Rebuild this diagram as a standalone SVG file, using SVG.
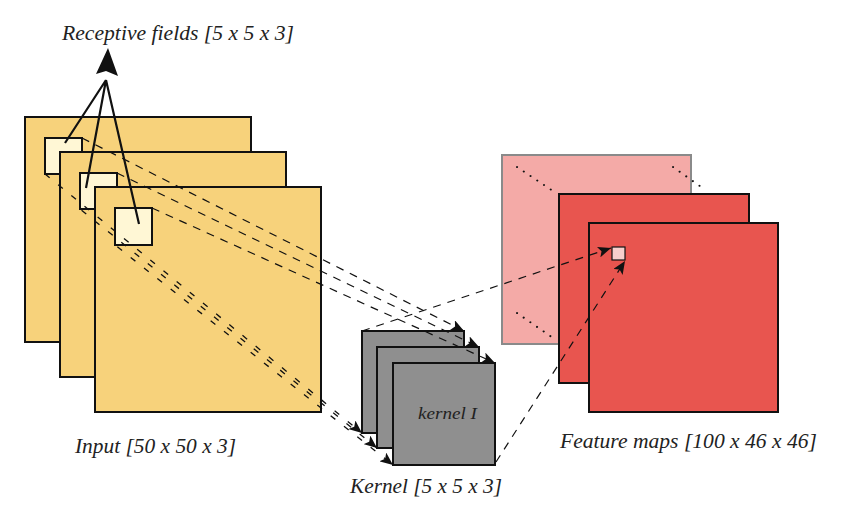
<svg xmlns="http://www.w3.org/2000/svg" width="854" height="522" viewBox="0 0 854 522">
<style>
.lbl{font-family:"Liberation Serif","Times New Roman",serif;font-style:italic;fill:#222;}
.inp{fill:#f7d27b;stroke:#111;stroke-width:2;}
.rf{fill:#fff7d5;stroke:#111;stroke-width:2;}
.ker{fill:#8f8f8f;stroke:#111;stroke-width:2;}
.fm{fill:#e8554f;stroke:#111;stroke-width:2;}
.dash{fill:none;stroke:#111;stroke-width:1.2;stroke-dasharray:8,7;}
.hatch{fill:none;stroke:#111;stroke-width:1.3;stroke-dasharray:6,11;}
.dot{fill:none;stroke:#111;stroke-width:2;stroke-linecap:round;stroke-dasharray:0.1,8;}
.solid{fill:none;stroke:#111;stroke-width:2.2;}
</style>
<defs>
<marker id="ah" markerUnits="userSpaceOnUse" markerWidth="13" markerHeight="11" refX="13" refY="5.5" orient="auto" viewBox="0 0 13 11">
<path d="M0,0 L13,5.5 L0,11 L3,5.5 z" fill="#111"/>
</marker>
</defs>

<g id="input">
<rect class="inp" x="25" y="117" width="226" height="225"/>
<rect class="rf" x="45" y="138" width="37" height="36"/>
<rect class="inp" x="60" y="152" width="226" height="225"/>
<rect class="rf" x="80" y="173" width="37" height="36"/>
<rect class="inp" x="95" y="187" width="226" height="225"/>
<rect class="rf" x="115" y="208" width="37" height="37"/>
</g>

<g id="kernel">
<rect class="ker" x="362" y="331" width="102" height="102"/>
<rect class="ker" x="377" y="347" width="102" height="101"/>
<rect class="ker" x="393" y="363" width="102" height="102"/>
<text class="lbl" x="418" y="419" font-size="17" textLength="59" lengthAdjust="spacingAndGlyphs">kernel I</text>
</g>

<g id="features">
<rect x="502" y="155" width="189" height="189" fill="#f4aaa7" stroke="#8a8a8a" stroke-width="2"/>
<path class="dot" d="M517,167 L556,193 M673,167 L704,189 M517,313 L556,340"/>
<rect class="fm" x="559" y="194" width="190" height="189"/>
<rect class="fm" x="589" y="223" width="189" height="189"/>
<rect x="612" y="247" width="13" height="13" fill="#f8cfcc" stroke="#111" stroke-width="1.2"/>
</g>

<g id="connectors">
<path class="dash" d="M82,138 L464,331" marker-end="url(#ah)"/>
<path class="dash" d="M117,173 L479,347" marker-end="url(#ah)"/>
<path class="dash" d="M152,208 L495,363" marker-end="url(#ah)"/>
<path class="hatch" d="M45,174 L362,433" marker-end="url(#ah)"/>
<path class="hatch" d="M80,209 L377,448" marker-end="url(#ah)" style="stroke-dashoffset:49"/>
<path class="hatch" d="M115,245 L393,465" marker-end="url(#ah)" style="stroke-dashoffset:99"/>
<path class="dash" d="M362,331 L611,248" marker-end="url(#ah)"/>
<path class="dash" d="M496,462 L625,261" marker-end="url(#ah)"/>
<path class="solid" d="M106,80 L65,143 M106,80 L86,188 M106,80 L139,224"/>
<path d="M108,48 L118,76 L106,71 L96,74 z" fill="#111"/>
</g>

<g id="labels">
<text class="lbl" x="62" y="40" font-size="21.5" textLength="232" lengthAdjust="spacingAndGlyphs">Receptive fields [5 x 5 x 3]</text>
<text class="lbl" x="75" y="453" font-size="21.5" textLength="161" lengthAdjust="spacingAndGlyphs">Input [50 x 50 x 3]</text>
<text class="lbl" x="350" y="493" font-size="21.5" textLength="152" lengthAdjust="spacingAndGlyphs">Kernel [5 x 5 x 3]</text>
<text class="lbl" x="560" y="448" font-size="21.5" textLength="257" lengthAdjust="spacingAndGlyphs">Feature maps [100 x 46 x 46]</text>
</g>
</svg>
